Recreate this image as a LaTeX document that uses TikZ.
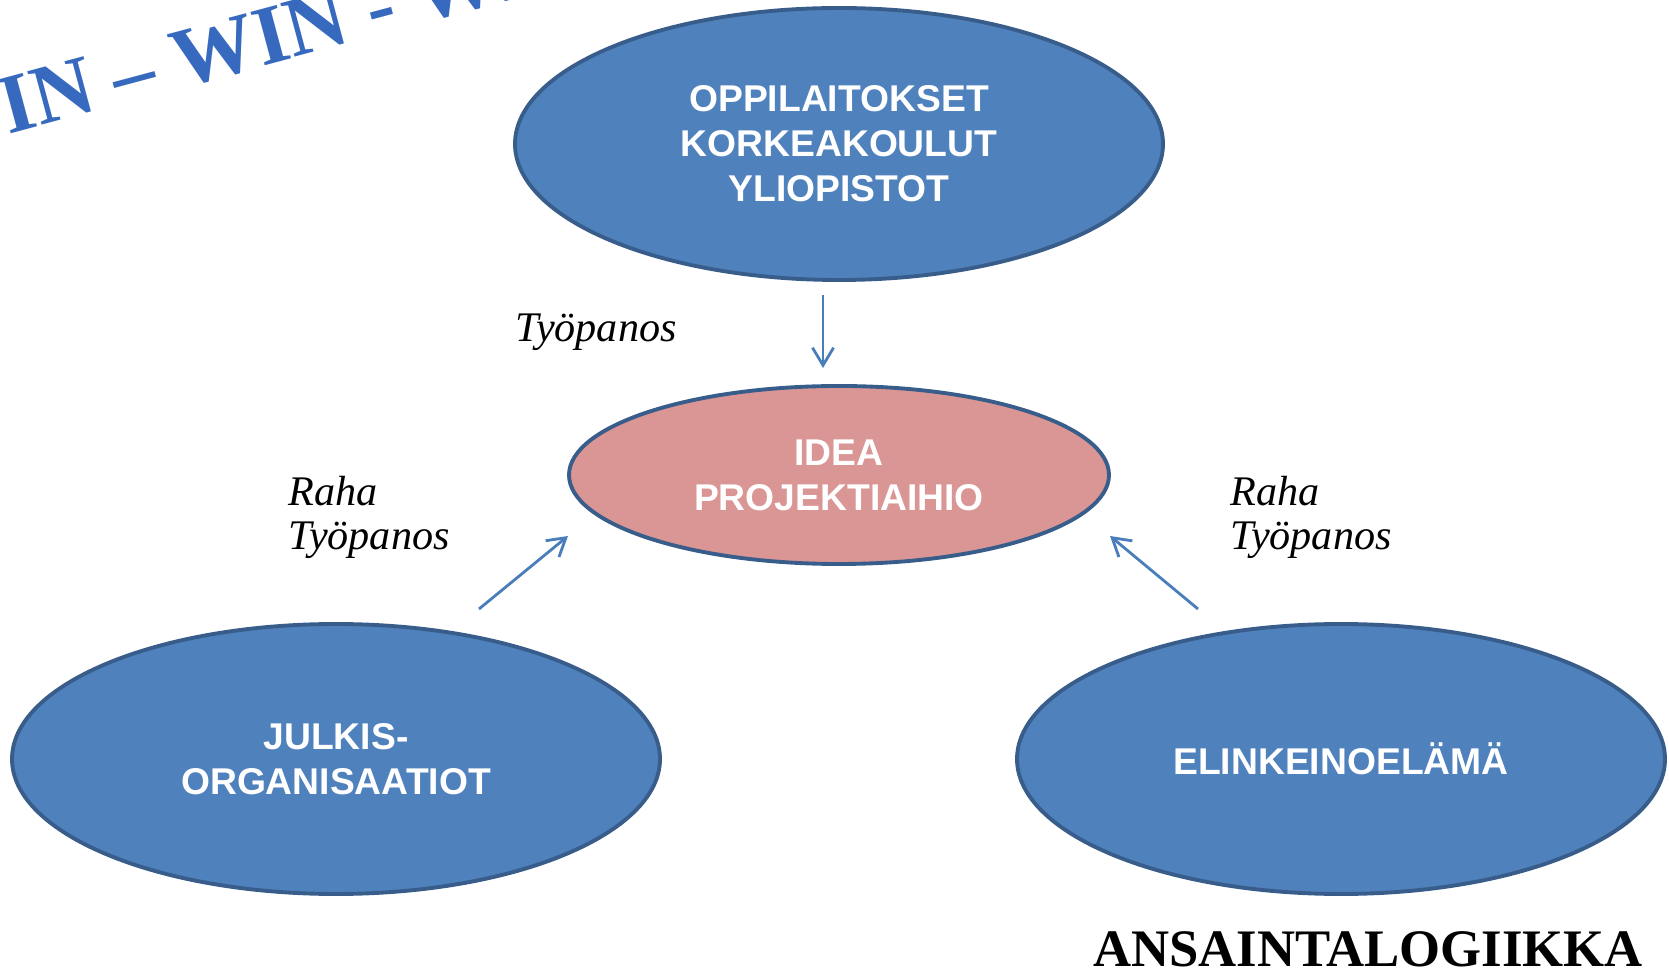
\documentclass[tikz,border=0pt]{standalone}
\usepackage{fontspec}
\setmainfont{Liberation Serif}
\newfontfamily\boxfont{Liberation Sans}
\usetikzlibrary{arrows.meta,shapes.geometric}
\definecolor{ovalblue}{RGB}{79,129,189}
\definecolor{ovalline}{RGB}{56,93,138}
\definecolor{ovalpink}{RGB}{217,150,148}
\definecolor{arrowblue}{RGB}{74,126,187}
\definecolor{winblue}{RGB}{55,105,190}

\begin{document}
\begin{tikzpicture}[
        oval/.style={shape=ellipse, draw=ovalline, line width=1.1pt, fill=ovalblue, inner sep=0pt,
            text=white, align=center, font=\boxfont\bfseries\fontsize{10.6}{12.8}\selectfont},
        flow/.style={draw=arrowblue, line width=0.8pt, -{Straight Barb[length=5pt,width=6pt]}},
        note/.style={align=left, anchor=base west, inner sep=0pt, font=\itshape\fontsize{12}{12.8}\selectfont}
    ]

                \useasboundingbox (0,0) rectangle (16.69,9.70);

                \node[oval, minimum width=6.48cm, minimum height=2.72cm] (oppi) at (8.39,8.26) {OPPILAITOKSET\\KORKEAKOULUT\\YLIOPISTOT};
                \node[oval, fill=ovalpink, minimum width=5.40cm, minimum height=1.78cm] (idea) at (8.39,4.95) {IDEA\\PROJEKTIAIHIO};
                \node[oval, minimum width=6.48cm, minimum height=2.70cm] (julkis) at (3.36,2.11) {JULKIS-\\ORGANISAATIOT};
                \node[oval, minimum width=6.48cm, minimum height=2.70cm] (elinkeino) at (13.41,2.11) {ELINKEINOELÄMÄ};

                \coordinate (a1) at (8.23,6.75);
                \coordinate (a2) at (8.23,6.02);
                \coordinate (b1) at (4.79,3.61);
                \coordinate (b2) at (5.68,4.34);
                \coordinate (c1) at (11.98,3.61);
                \coordinate (c2) at (11.10,4.34);

                \draw[flow] (a1) -- (a2);
                \draw[flow] (b1) -- (b2);
                \draw[flow] (c1) -- (c2);

                \node[note] (tyo) at (5.15,6.28) {Työpanos};
                \node[note] (vasen) at (2.88,4.20) {Raha\\Työpanos};
                \node[note] (oikea) at (12.30,4.20) {Raha\\Työpanos};

                \node[anchor=base, inner sep=0pt, font=\bfseries\fontsize{15}{18}\selectfont] (logiikka) at (13.68,0.04) {ANSAINTALOGIIKKA};
                \node[anchor=base, rotate=15, text=winblue, font=\bfseries\fontsize{24}{28}\selectfont] (win) at (2.60,9.03) {WIN – WIN - WIN};

            \end{tikzpicture}
\end{document}
